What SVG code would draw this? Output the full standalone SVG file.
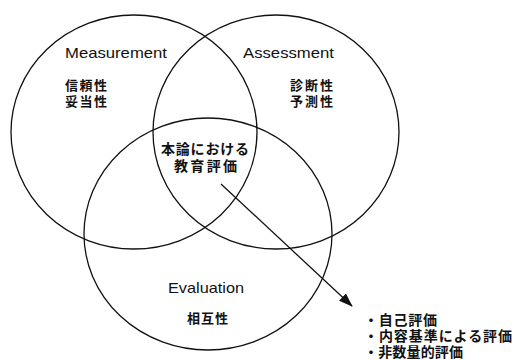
<svg xmlns="http://www.w3.org/2000/svg" width="515" height="360" viewBox="0 0 515 360">
<style>
.c{fill:none;stroke:#111;stroke-width:1.3}
.en{font-family:"Liberation Sans","Noto Sans CJK JP",sans-serif;font-size:15px;fill:#111}
.jp{font-family:"Noto Sans CJK JP",sans-serif;font-size:13px;font-weight:bold;fill:#111}
.jl{font-family:"Noto Sans CJK JP",sans-serif;font-size:14px;font-weight:bold;fill:#111}
</style>
<defs>
<marker id="ah" markerWidth="14" markerHeight="10" refX="13" refY="5" orient="auto" markerUnits="userSpaceOnUse" viewBox="0 0 14 10">
<path d="M0,0 L14,5 L0,10 Z" fill="#111"/>
</marker>
</defs>
<rect width="515" height="360" fill="#fff"/>
<g id="measurement">
<ellipse class="c" cx="134" cy="132" rx="123" ry="117"/>
<text class="en" x="65" y="58" textLength="102" lengthAdjust="spacingAndGlyphs">Measurement</text>
<text class="jp"><tspan x="65" y="90" textLength="42">信頼性</tspan><tspan x="65" y="106" textLength="42">妥当性</tspan></text>
</g>
<g id="assessment">
<ellipse class="c" cx="276" cy="132" rx="123" ry="117"/>
<text class="en" x="243" y="58" textLength="91" lengthAdjust="spacingAndGlyphs">Assessment</text>
<text class="jp"><tspan x="290" y="90" textLength="43">診断性</tspan><tspan x="290" y="106" textLength="43">予測性</tspan></text>
</g>
<g id="evaluation">
<ellipse class="c" cx="208" cy="234" rx="124" ry="116"/>
<text class="en" x="168" y="293" textLength="76" lengthAdjust="spacingAndGlyphs">Evaluation</text>
<text class="jp" x="187" y="323" textLength="41">相互性</text>
</g>
<g id="center">
<text class="jl"><tspan x="161" y="154" textLength="88">本論における</tspan><tspan x="174" y="171" textLength="63">教育評価</tspan></text>
</g>
<g id="list">
<text class="jl"><tspan x="364" y="325" textLength="73">・自己評価</tspan><tspan x="364" y="341" textLength="148">・内容基準による評価</tspan><tspan x="364" y="357" textLength="99">・非数量的評価</tspan></text>
</g>
<g id="connectors">
<line x1="221" y1="184" x2="352" y2="306" stroke="#111" stroke-width="1.3" marker-end="url(#ah)"/>
</g>
</svg>
